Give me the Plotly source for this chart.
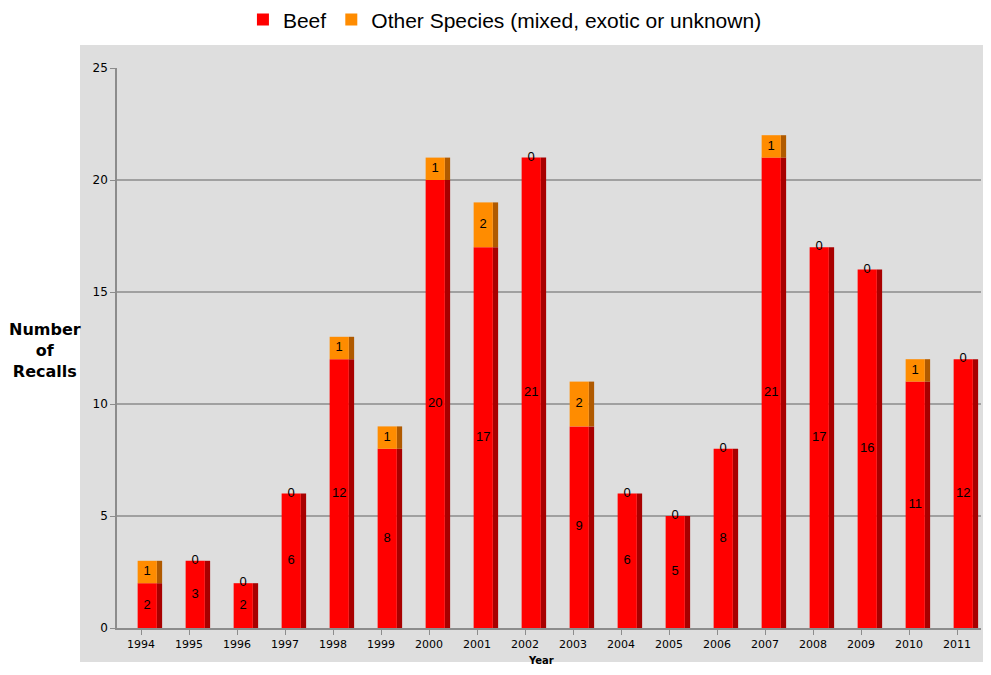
import plotly.graph_objects as go

years = [1994, 1995, 1996, 1997, 1998, 1999, 2000, 2001, 2002,
         2003, 2004, 2005, 2006, 2007, 2008, 2009, 2010, 2011]
beef = [2, 3, 2, 6, 12, 8, 20, 17, 21, 9, 6, 5, 8, 21, 17, 16, 11, 12]
other = [1, 0, 0, 0, 1, 1, 1, 2, 0, 2, 0, 0, 0, 1, 0, 0, 1, 0]

RED = "#FF0000"
RED_SIDE = "#A80000"
ORANGE = "#FF8C00"
ORANGE_SIDE = "#B05A00"
BG = "#DEDEDE"
FONT = "Liberation Sans"

fig = go.Figure()

# side faces (fake 3D depth)
fig.add_trace(go.Bar(x=years, y=beef, base=0, offset=0.33, width=0.11,
                     marker=dict(color=RED_SIDE, line_width=0),
                     showlegend=False, hoverinfo="skip"))
fig.add_trace(go.Bar(x=years, y=other, base=beef, offset=0.33, width=0.11,
                     marker=dict(color=ORANGE_SIDE, line_width=0),
                     showlegend=False, hoverinfo="skip"))

# front faces
fig.add_trace(go.Bar(name="Beef", x=years, y=beef, base=0,
                     offset=-0.07, width=0.40,
                     marker=dict(color=RED, line_width=0)))
fig.add_trace(go.Bar(name="Other Species (mixed, exotic or unknown)",
                     x=years, y=other, base=beef,
                     offset=-0.07, width=0.40,
                     marker=dict(color=ORANGE, line_width=0)))

# value labels
lx = [y + 0.13 for y in years]
fig.add_trace(go.Scatter(x=lx, y=[b / 2 for b in beef], mode="text",
                         text=[str(b) for b in beef],
                         textfont=dict(family=FONT, size=13, color="black"),
                         showlegend=False, hoverinfo="skip"))
fig.add_trace(go.Scatter(
    x=lx,
    y=[b + o / 2 if o > 0 else b for b, o in zip(beef, other)],
    mode="text", text=[str(o) for o in other],
    textfont=dict(family=FONT, size=13, color="black"),
    showlegend=False, hoverinfo="skip"))

fig.update_layout(
    barmode="overlay",
    width=975, height=659,
    paper_bgcolor="white",
    plot_bgcolor=BG,
    margin=dict(l=109, r=2, t=60, b=39),
    font=dict(family=FONT, size=12, color="black"),
    legend=dict(orientation="h", x=0.449, xanchor="center",
                yref="container", y=0.982, yanchor="middle",
                font=dict(family=FONT, size=21),
                bgcolor="rgba(0,0,0,0)"),
    shapes=[dict(type="rect", xref="paper", yref="paper",
                 x0=-0.0428, x1=1.003, y0=-0.0607, y1=1.041,
                 fillcolor=BG, line_width=0, layer="below")],
    annotations=[
        dict(text="<b>Number<br>of<br>Recalls</b>", xref="paper", yref="paper",
             x=-0.0833, y=0.496, xanchor="center", yanchor="middle",
             showarrow=False,
             font=dict(family="DejaVu Sans", size=16, color="black")),
        dict(text="<b>Year</b>", xref="paper", yref="paper",
             x=0.491, y=-0.058, showarrow=False, yanchor="middle",
             font=dict(family="DejaVu Sans", size=10, color="black")),
    ],
)

fig.update_xaxes(range=[1993.5, 2011.5], tickmode="array", tickvals=years,
                 ticktext=[str(y) for y in years],
                 tickfont=dict(family="DejaVu Sans", size=11),
                 showgrid=False, showline=True, linecolor="#8C8C8C",
                 linewidth=1.5, ticks="outside", ticklen=5,
                 tickcolor="#8C8C8C", zeroline=False)
fig.update_yaxes(range=[0, 25], tickvals=[0, 5, 10, 15, 20, 25],
                 tickfont=dict(family="DejaVu Sans", size=12),
                 showgrid=True, gridcolor="#A0A0A0", gridwidth=1.5,
                 showline=True, linecolor="#8C8C8C", linewidth=1.5,
                 ticks="outside", ticklen=5, tickcolor="#8C8C8C",
                 zeroline=False)

fig.write_html("out.html")
